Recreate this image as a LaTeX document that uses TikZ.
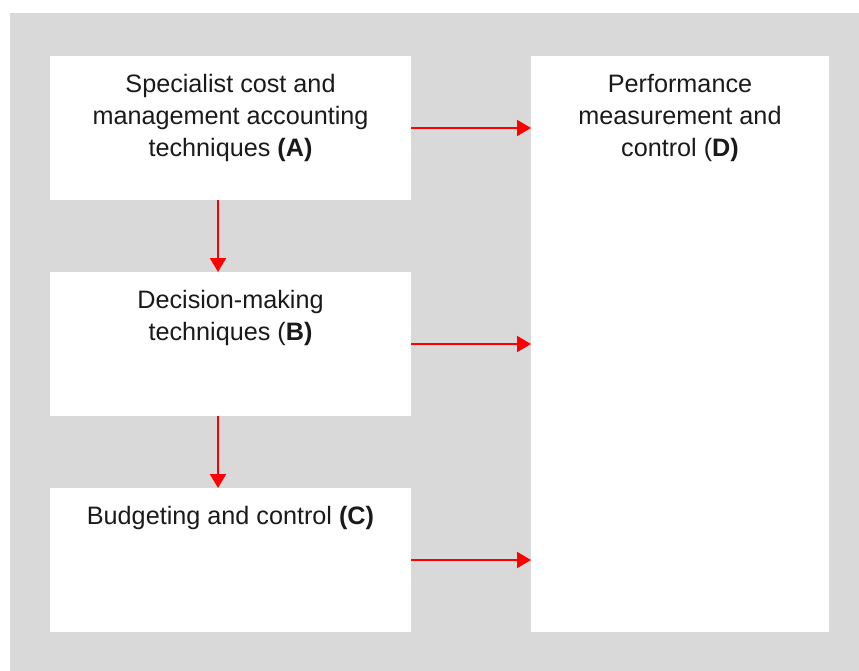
\documentclass[tikz,border=0pt]{standalone}
\usepackage{fontspec}
\setmainfont{Liberation Sans}
\usetikzlibrary{arrows.meta}
\definecolor{bggray}{HTML}{D9D9D9}
\definecolor{txt}{HTML}{1A1A1A}
\tikzset{
  box/.style={fill=white, draw=none, inner sep=0pt, outer sep=0pt, anchor=north west},
  lbl/.style={align=center, inner sep=0pt, anchor=base, text=txt, font=\fontsize{25.2}{32}\selectfont},
  flow/.style={draw=red, line width=2pt, -{Triangle[length=14pt, width=16pt]}}
}
\begin{document}
\begin{tikzpicture}[x=1pt, y=-1pt]
\useasboundingbox (0,0) rectangle (859,671);
\fill[bggray] (10,13) rectangle (859,671);
\node[box, minimum width=361pt, minimum height=144pt] (A) at (50,56) {};
\node[box, minimum width=361pt, minimum height=144pt] (B) at (50,272) {};
\node[box, minimum width=361pt, minimum height=144pt] (C) at (50,488) {};
\node[box, minimum width=298pt, minimum height=576pt] (D) at (531,56) {};
% base anchor = baseline of the last line
\node[lbl] (At) at ([yshift=-100.5pt]A.north) {Specialist cost and\\management accounting\\techniques \textbf{(A)}};
\node[lbl] (Bt) at ([yshift=-68.5pt]B.north) {Decision-making\\techniques (\textbf{B)}};
\node[lbl] (Ct) at ([yshift=-36pt]C.north) {Budgeting and control \textbf{(C)}};
\node[lbl] (Dt) at ([yshift=-100.5pt]D.north) {Performance\\measurement and\\control (\textbf{D)}};
\draw[flow] ([xshift=-12.5pt]A.south) -- ([xshift=-12.5pt]B.north);
\draw[flow] ([xshift=-12.5pt]B.south) -- ([xshift=-12.5pt]C.north);
\draw[flow] (A.east) -- (A.east -| D.west);
\draw[flow] (B.east) -- (B.east -| D.west);
\draw[flow] (C.east) -- (C.east -| D.west);
\end{tikzpicture}
\end{document}
